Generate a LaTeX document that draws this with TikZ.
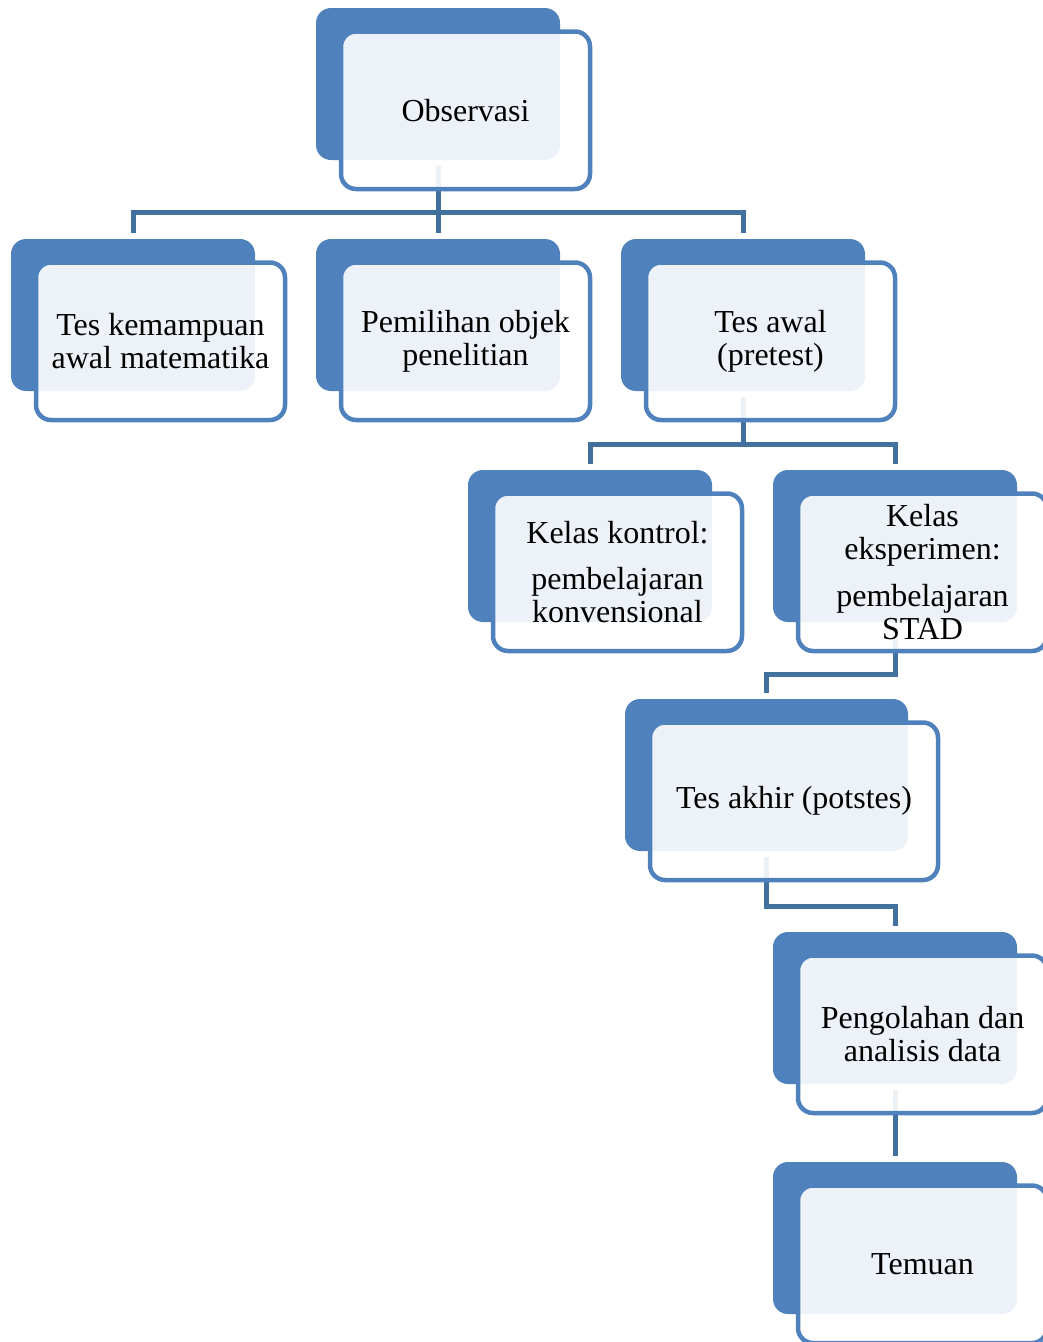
\documentclass[tikz,border=0pt]{standalone}
\usepackage{fontspec}
\setmainfont{Liberation Serif}
\definecolor{boxblue}{HTML}{4F81BD}
\definecolor{connblue}{HTML}{41719C}
\begin{document}
\begin{tikzpicture}[x=1pt,y=-1pt,
  darkbox/.style={fill=boxblue, draw=none, rounded corners=15pt, anchor=north west,
    minimum width=244pt, minimum height=152pt, inner sep=0pt, outer sep=0pt},
  outbox/.style={draw=boxblue, line width=4.5pt, fill=white, fill opacity=0.9, text opacity=1,
    rounded corners=15pt, anchor=north west, minimum width=249pt, minimum height=157.5pt,
    inner sep=0pt, outer sep=0pt, align=center, font=\fontsize{32}{33}\selectfont},
  conn/.style={draw=connblue, line width=5pt, line join=miter}]
\useasboundingbox (0,0) rectangle (1043,1342);
\clip (0,0) rectangle (1043,1342);
% dark back rectangles
\node[darkbox] (obs-d) at (316,8) {};
\node[darkbox] (tk-d) at (11,239) {};
\node[darkbox] (po-d) at (316,239) {};
\node[darkbox] (ta-d) at (621,239) {};
\node[darkbox] (kk-d) at (468,470) {};
\node[darkbox] (ke-d) at (773,470) {};
\node[darkbox, minimum width=283pt] (tak-d) at (625,699) {};
\node[darkbox] (pa-d) at (773,932) {};
\node[darkbox] (tm-d) at (773,1162) {};
% bus levels
\coordinate (bus1) at (438,212.5);
\coordinate (bus2) at (743,444);
\coordinate (bus3) at (895,674);
\coordinate (bus4) at (766.5,906);
% connectors
\draw[conn] ([yshift=-6pt]obs-d.south) -- (obs-d.south |- bus1) -| ([yshift=6pt]tk-d.north);
\draw[conn] (obs-d.south |- bus1) -| ([yshift=6pt]ta-d.north);
\draw[conn] (obs-d.south |- bus1) -- ([yshift=6pt]po-d.north);
\draw[conn] ([yshift=-6pt]ta-d.south) -- (ta-d.south |- bus2) -| ([yshift=6pt]kk-d.north);
\draw[conn] (ta-d.south |- bus2) -| ([yshift=6pt]ke-d.north);
\draw[conn] ([yshift=-6pt]ke-d.south) -- (ke-d.south |- bus3) -| ([yshift=6pt]tak-d.north);
\draw[conn] ([yshift=-6pt]tak-d.south) -- (tak-d.south |- bus4) -| ([yshift=6pt]pa-d.north);
\draw[conn] ([yshift=-6pt]pa-d.south) -- ([yshift=6pt]tm-d.north);
% outline front boxes with text
\node[outbox] (obs) at (341,31.5) {Observasi};
\node[outbox] (tk) at (36,262.5) {Tes kemampuan\\awal matematika};
\node[outbox] (po) at (341,262.5) {Pemilihan objek\\penelitian};
\node[outbox] (ta) at (646,262.5) {Tes awal\\(pretest)};
\node[outbox] (kk) at (493,493.5) {Kelas kontrol:\\[13pt]pembelajaran\\konvensional};
\node[outbox] (ke) at (798,493.5) {Kelas\\eksperimen:\\[14pt]pembelajaran\\STAD};
\node[outbox, minimum width=288pt] (tak) at (650,722.5) {Tes akhir (potstes)};
\node[outbox] (pa) at (798,955.5) {Pengolahan dan\\analisis data};
\node[outbox] (tm) at (798,1185.5) {Temuan};
\end{tikzpicture}
\end{document}
